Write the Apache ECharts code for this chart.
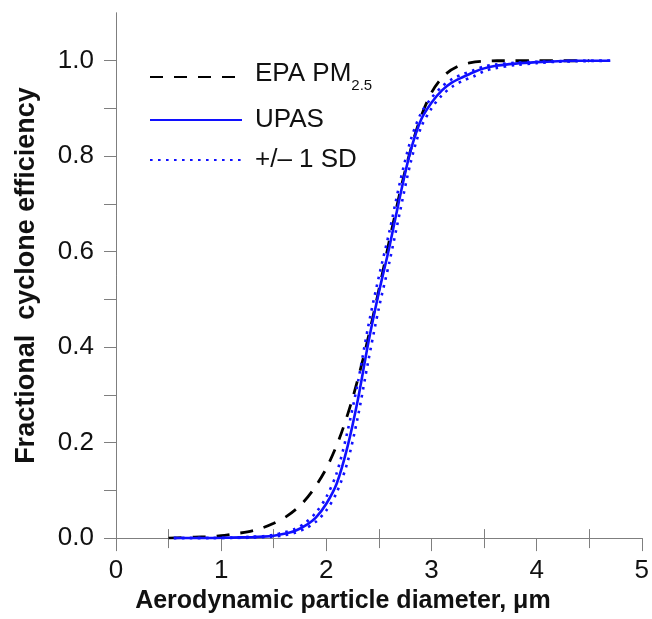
<!DOCTYPE html>
<html><head><meta charset="utf-8">
<script src="https://cdn.jsdelivr.net/npm/echarts@6/dist/echarts.min.js"></script>
<style>html,body{margin:0;padding:0;background:#fff}#c{width:652px;height:619px}</style>
</head><body><div id="c"></div>
<script>
// EPA PM2.5 reference curve
const epaX = [0.5,0.625,0.75,0.875,1.0,1.125,1.25,1.375,1.5,1.625,1.75,1.875,2.0,2.125,2.25,2.375,2.5,2.625,2.75,2.875,3.0,3.125,3.25,3.375,3.5,3.625,3.75,4.0,4.25,4.5];
const epaY = [0.000,0.001,0.002,0.003,0.005,0.009,0.013,0.020,0.031,0.046,0.068,0.101,0.146,0.209,0.293,0.398,0.520,0.649,0.770,0.867,0.933,0.970,0.988,0.996,0.999,1.0,1.0,1.0,1.0,1.0];
// UPAS curve and +/- 1 SD
const upasX = [0.55,0.7,0.9,1.1,1.3,1.4,1.5,1.6,1.7,1.8,1.9,2.0,2.1,2.2,2.3,2.4,2.5,2.6,2.7,2.8,2.9,3.0,3.1,3.2,3.3,3.4,3.5,3.6,3.8,4.0,4.2,4.4,4.7];
const upasY = [0,0,0,0.001,0.002,0.003,0.005,0.009,0.015,0.026,0.043,0.072,0.115,0.19,0.29,0.41,0.515,0.61,0.715,0.81,0.876,0.912,0.938,0.955,0.966,0.976,0.984,0.989,0.994,0.997,0.999,1.0,1.0];
const sdUpperY = [0,0,0,0.001,0.003,0.004,0.007,0.012,0.019,0.032,0.053,0.086,0.137,0.222,0.326,0.445,0.548,0.642,0.745,0.832,0.89,0.922,0.946,0.962,0.972,0.98,0.988,0.992,0.996,0.998,0.999,1.0,1.0];
const sdLowerY = [0,0,0,0,0.001,0.002,0.003,0.006,0.011,0.02,0.034,0.058,0.096,0.158,0.254,0.372,0.482,0.578,0.683,0.785,0.86,0.9,0.928,0.946,0.958,0.967,0.978,0.984,0.991,0.995,0.998,0.999,1.0];
// ticks
const xLabelTicks = [0,1,2,3,4,5];
const xInnerTicks = [0.5,1.5,2.5,3.5,4.5];
const xTopTicks = [0.5,1,1.5,2,2.5,3,3.5,4,4.5];
const yLabelTicks = [0,0.2,0.4,0.6,0.8,1.0];
const yLeftTicks = [0,0.1,0.2,0.3,0.4,0.5,0.6,0.7,0.8,0.9,1.0];
const yRightMajor = [0.2,0.4,0.6,0.8,1.0];
const yRightMinor = [0.1,0.3,0.5,0.7,0.9];

const FONT = "'Liberation Sans', Arial, sans-serif";
const AX = '#7f7f7f';
const BLUE = '#1010ff';
const zip = (xs, ys) => xs.map((x, i) => [x, ys[i]]);

const chart = echarts.init(document.getElementById('c'), null, {renderer: 'canvas'});
const hidden = {show: false};
chart.setOption({
  animation: false,
  backgroundColor: '#fff',
  grid: {left: 116, right: 6, top: 13, bottom: 78, containLabel: false},
  legend: {
    orient: 'vertical', left: 144, top: 56, itemWidth: 92, itemHeight: 14, itemGap: 14,
    data: ['EPA PM2.5', 'UPAS', '+/– 1 SD'],
    itemStyle: {color: 'rgba(0,0,0,0)', borderWidth: 0, opacity: 0},
    formatter: n => n === 'EPA PM2.5' ? '{e|EPA PM}{s|2.5}' : '{n|' + n + '}',
    textStyle: {
      fontFamily: FONT, color: '#111', padding: [0, 0, 0, 8],
      rich: {
        e: {fontSize: 26, fontFamily: FONT, color: '#111', lineHeight: 32, verticalAlign: 'top'},
        n: {fontSize: 26, fontFamily: FONT, color: '#111', lineHeight: 28},
        s: {fontSize: 15, fontFamily: FONT, color: '#111', lineHeight: 15, verticalAlign: 'bottom'}
      }
    }
  },
  xAxis: [
    {type: 'value', position: 'bottom', min: 0, max: 5,
     axisLine: {show: true, lineStyle: {color: AX, width: 1}},
     axisTick: {show: true, inside: false, length: 13, customValues: xLabelTicks, lineStyle: {color: AX}},
     axisLabel: {customValues: xLabelTicks, fontSize: 26, fontFamily: FONT, color: '#111', margin: 20},
     splitLine: hidden,
     name: 'Aerodynamic particle diameter, \u03bcm', nameLocation: 'middle', nameGap: 44,
     nameTextStyle: {fontSize: 25, fontWeight: 'bold', fontFamily: FONT, color: '#111', padding: [0, 72, 0, 0]}},
    {type: 'value', position: 'bottom', min: 0, max: 5,
     axisLine: hidden,
     axisTick: {show: true, inside: true, length: 9, customValues: xInnerTicks, lineStyle: {color: AX}},
     axisLabel: hidden, splitLine: hidden},
    {type: 'value', position: 'top', min: 0, max: 5,
     axisLine: {show: true, lineStyle: {color: AX, width: 1}},
     axisTick: {show: true, inside: true, length: 10, customValues: xTopTicks, lineStyle: {color: AX}},
     axisLabel: hidden, splitLine: hidden}
  ],
  yAxis: [
    {type: 'value', position: 'left', min: 0, max: 1.1,
     axisLine: {show: true, lineStyle: {color: AX, width: 1}},
     axisTick: {show: true, inside: false, length: 12, customValues: yLeftTicks, lineStyle: {color: AX}},
     axisLabel: {customValues: yLabelTicks, fontSize: 26, fontFamily: FONT, color: '#111', margin: 22,
                 formatter: v => v.toFixed(1)},
     splitLine: hidden,
     name: 'Fractional  cyclone efficiency', nameLocation: 'middle', nameGap: 76, nameRotate: 90,
     nameTextStyle: {fontSize: 27, fontWeight: 'bold', fontFamily: FONT, color: '#111'}},
    {type: 'value', position: 'right', min: 0, max: 1.1,
     axisLine: {show: true, lineStyle: {color: AX, width: 1}},
     axisTick: {show: true, inside: true, length: 12, customValues: yRightMajor, lineStyle: {color: AX}},
     axisLabel: hidden, splitLine: hidden},
    {type: 'value', position: 'right', min: 0, max: 1.1,
     axisLine: hidden,
     axisTick: {show: true, inside: true, length: 7, customValues: yRightMinor, lineStyle: {color: AX}},
     axisLabel: hidden, splitLine: hidden}
  ],
  series: [
    {name: 'EPA PM2.5', type: 'line', xAxisIndex: 0, yAxisIndex: 0, data: zip(epaX, epaY),
     smooth: 0.3, symbol: 'none', color: '#000',
     lineStyle: {color: '#000', width: 2.8, type: [13, 11]}},
    {name: '+/– 1 SD', type: 'line', xAxisIndex: 0, yAxisIndex: 0, data: zip(upasX, sdUpperY),
     smooth: 0.3, symbol: 'none', color: BLUE,
     lineStyle: {color: BLUE, width: 2.6, type: [2.6, 5.4]}},
    {name: '+/– 1 SD', type: 'line', xAxisIndex: 0, yAxisIndex: 0, data: zip(upasX, sdLowerY),
     smooth: 0.3, symbol: 'none', color: BLUE,
     lineStyle: {color: BLUE, width: 2.6, type: [2.6, 5.4]}},
    {name: 'UPAS', type: 'line', xAxisIndex: 0, yAxisIndex: 0, data: zip(upasX, upasY),
     smooth: 0.3, symbol: 'none', color: BLUE,
     lineStyle: {color: BLUE, width: 2.6, type: 'solid'}}
  ]
});
</script>
</body></html>
